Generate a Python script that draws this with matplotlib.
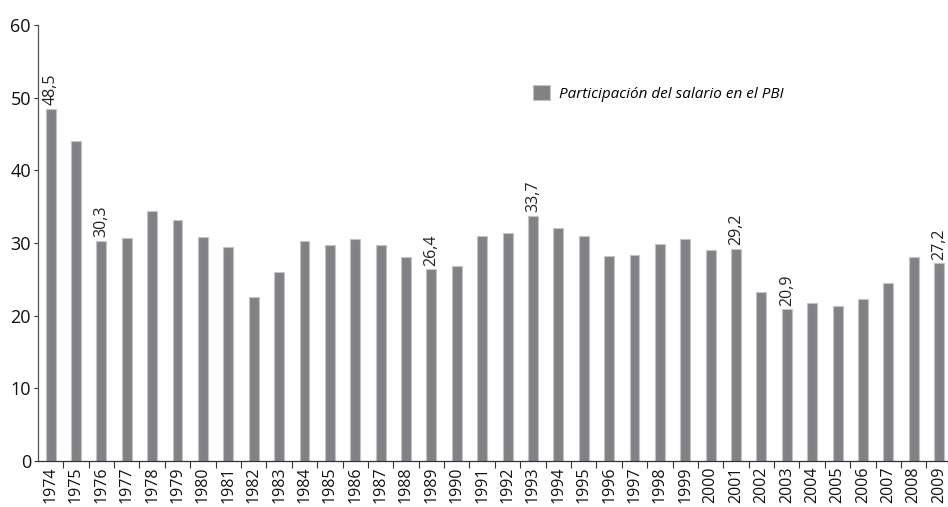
import numpy as np
import matplotlib.pyplot as plt

years = list(range(1974, 2010))
valores = [48.5, 44.0, 30.3, 30.7, 34.4, 33.2, 30.8, 29.4, 22.6, 26.0,
           30.3, 29.7, 30.6, 29.7, 28.1, 26.4, 26.8, 30.9, 31.4, 33.7,
           32.0, 31.0, 28.2, 28.4, 29.8, 30.6, 29.1, 29.2, 23.2, 20.9,
           21.8, 21.4, 22.3, 24.5, 28.1, 27.2]
etiquetados = [1974, 1976, 1989, 1993, 2001, 2003, 2009]
serie = 'Participación del salario en el PBI'

plt.rcParams['font.family'] = ['Open Sans', 'DejaVu Sans']

fig = plt.figure(figsize=(9.48, 5.07), dpi=100)
ax = fig.add_axes([0.040, 0.0907, 0.960, 0.86])

x = np.arange(len(years))
ax.bar(x, valores, width=0.39, color='#808285', edgecolor='#c4c4c6',
       linewidth=0.8, label=serie)

for i, (yr, v) in enumerate(zip(years, valores)):
    if yr in etiquetados:
        txt = f'{v:.1f}'.replace('.', ',')
        ax.text(i, v + 0.5, txt, rotation=90, ha='center', va='bottom',
                fontsize=11.5, color='#222222')

ax.set_xlim(-0.5, 35.35)
ax.set_ylim(0, 60)
ax.set_yticks(range(0, 61, 10))
ax.tick_params(axis='y', length=3, width=0.8, labelsize=13, pad=2,
               colors='#333333', labelcolor='#111111')

ax.set_xticks(x)
ax.set_xticklabels([str(y) for y in years], rotation=90, fontsize=11.5,
                   color='#111111')
ax.set_xticks(x[:-1] + 0.5, minor=True)
ax.tick_params(axis='x', which='major', length=0, pad=4)
ax.tick_params(axis='x', which='minor', length=5, width=0.8, color='#333333')

for s in ['top', 'right']:
    ax.spines[s].set_visible(False)
ax.spines['left'].set_color('#555555')
ax.spines['bottom'].set_color('#333333')
ax.spines['left'].set_linewidth(0.9)
ax.spines['bottom'].set_linewidth(0.9)

leg = ax.legend(loc='upper left', bbox_to_anchor=(0.529, 0.895), frameon=False,
                handlelength=1.1, handleheight=1.2, handletextpad=0.6,
                prop={'style': 'italic', 'size': 11})

fig.savefig('out.png', dpi=100)
